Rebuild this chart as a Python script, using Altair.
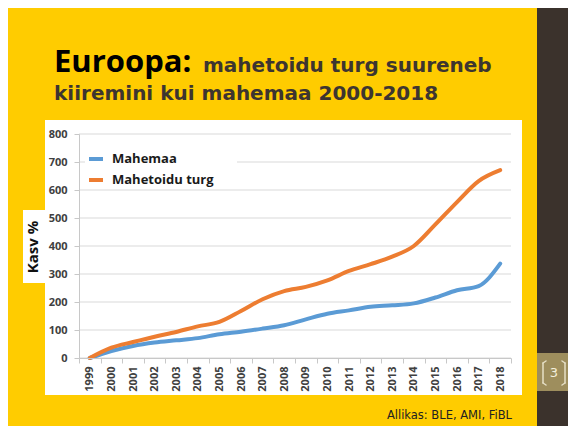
import altair as alt
import pandas as pd

# ---- data ----
years = ["1999", "2000", "2001", "2002", "2003", "2004", "2005", "2006", "2007", "2008",
         "2009", "2010", "2011", "2012", "2013", "2014", "2015", "2016", "2017", "2018"]
mahemaa = [0, 25, 43, 55, 63, 71, 85, 94, 105, 117, 138, 158, 170, 183, 188, 195, 216, 242, 257, 337]
mahetoidu_turg = [0, 37, 57, 76, 93, 113, 129, 168, 210, 239, 254, 277, 311, 335, 362, 400, 477, 557, 632, 671]
series_names = ["Mahemaa", "Mahetoidu turg"]
series_colors = ["#5B9BD5", "#ED7D31"]
y_ticks = [0, 100, 200, 300, 400, 500, 600, 700, 800]

title_big = "Euroopa:"
title_rest1 = "mahetoidu turg suureneb"
title_line2 = "kiiremini kui mahemaa 2000-2018"
y_title = "Kasv %"
source_text = "Allikas: BLE, AMI, FiBL"
page_number = "3"

YELLOW = "#FFCC00"
BROWN = "#3B322C"
TAN = "#9E8E5D"
BRACKET = "#E6DFC6"
FONT = "Open Sans"
FONT2 = "DejaVu Sans"

df = pd.DataFrame({
    "year": years * 2,
    "value": mahemaa + mahetoidu_turg,
    "series": [series_names[0]] * len(years) + [series_names[1]] * len(years),
})
grid_df = pd.DataFrame({"v": y_ticks})
one = pd.DataFrame({"a": [0]})

W, H = 432, 224

x_scale = alt.Scale(type="band", paddingInner=0, paddingOuter=0, domain=years)
y_scale = alt.Scale(domain=[0, 800], nice=False)
y_axis = alt.Axis(values=y_ticks, grid=False, domainColor="#C8C8C8", tickColor="#C8C8C8",
                  tickSize=5, labelPadding=7, labelFont=FONT, labelFontSize=11,
                  labelFontWeight="bold", labelColor="#404040", title=None, zindex=1)

base = alt.Chart(one)


def rect(x1, x2, y1, y2, color):
    return base.mark_rect(color=color).encode(
        x=alt.value(x1), x2=alt.value(x2), y=alt.value(y1), y2=alt.value(y2))


def seg(x1, x2, y1, y2, color, width=1.5):
    return base.mark_rule(color=color, strokeWidth=width, strokeCap="round").encode(
        x=alt.value(x1), x2=alt.value(x2), y=alt.value(y1), y2=alt.value(y2))


def text(t, x, y, size, color, weight="bold", align="left", baseline="alphabetic", angle=0, font=FONT):
    kw = dict(text=t, fontSize=size, color=color, fontWeight=weight, align=align,
              baseline=baseline, font=font)
    if angle:
        kw["angle"] = angle
    return base.mark_text(**kw).encode(x=alt.value(x), y=alt.value(y))


brown = rect(458, 489, -126, 292, BROWN)
tan = rect(458, 489, 219, 257, TAN)
white_box = rect(-34, 443, -14, 261, "white")
kasv_box = rect(-56, -34, 76, 149, "white")

# page-number brackets
br = [
    seg(464, 464, 229, 249, BRACKET), seg(464, 467, 229, 227, BRACKET), seg(464, 467, 249, 251, BRACKET),
    seg(486, 486, 229, 249, BRACKET), seg(486, 483, 229, 227, BRACKET), seg(486, 483, 249, 251, BRACKET),
]

grid = alt.Chart(grid_df).mark_rule(color="#D9D9D9", strokeWidth=1).encode(
    y=alt.Y("v:Q", scale=y_scale, axis=y_axis))

legend_back = rect(6, 158, 13, 50, "white")

lines = alt.Chart(df).mark_line(interpolate="monotone", strokeWidth=4, strokeCap="round").encode(
    x=alt.X("year:O", scale=x_scale, bandPosition=0.5, sort=years,
            axis=alt.Axis(tickBand="extent", labelAngle=270, labelAlign="right",
                          labelBaseline="middle", labelPadding=3, tickSize=5,
                          domainColor="#C8C8C8", tickColor="#C8C8C8", labelFont=FONT,
                          labelFontSize=11, labelFontWeight="bold", labelColor="#404040",
                          title=None, grid=False, zindex=1)),
    y=alt.Y("value:Q", scale=y_scale, axis=y_axis),
    color=alt.Color("series:N",
                    scale=alt.Scale(domain=series_names, range=series_colors),
                    legend=alt.Legend(orient="none", legendX=8, legendY=16, title=None,
                                      symbolType="stroke", symbolSize=196, symbolStrokeWidth=4,
                                      labelFont=FONT, labelFontSize=13, labelFontWeight="bold",
                                      labelColor="#1A1A1A", labelOffset=7, rowPadding=4,
                                      padding=0)),
)

t_big = text(title_big, -25, -62, 31, "#000000")
t_rest = text(title_rest1, 124, -62, 20, "#3D3530", font=FONT2)
t_line2 = text(title_line2, -25, -34, 20, "#3D3530", font=FONT2)
t_kasv = text(y_title, -46, 113, 15, "#111111", align="center", baseline="middle", angle=270)
t_src = text(source_text, 433, 282, 11.5, "#222222", weight="normal", align="right",
             baseline="middle", font=FONT2)
t_num = text(page_number, 475, 239, 13, "#F3EEDC", weight="normal", align="center",
             baseline="middle", font=FONT2)

chart = alt.layer(
    brown, tan, *br, white_box, kasv_box, grid, legend_back, lines,
    t_big, t_rest, t_line2, t_kasv, t_src, t_num,
).properties(
    width=W, height=H,
    autosize=alt.AutoSizeParams(type="none"),
    padding={"left": 71, "top": 126, "right": 57, "bottom": 68},
).configure(
    background=YELLOW,
).configure_view(stroke=None)

chart.save("out.html", embed_options={"renderer": "svg", "actions": False})
